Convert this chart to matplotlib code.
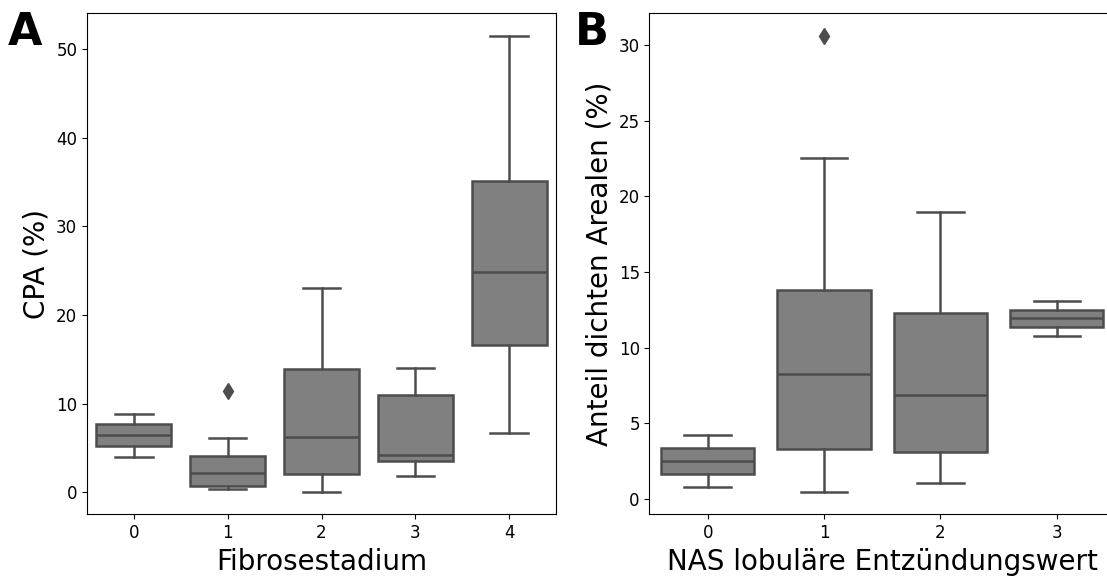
import matplotlib
matplotlib.use("Agg")
import matplotlib.pyplot as plt

# Panel A: CPA je Fibrosestadium
fib_stages = ["0", "1", "2", "3", "4"]
fib_whislo = [4.0, 0.33, 0.08, 1.8, 6.7]
fib_q1 = [5.2, 0.7, 2.1, 3.47, 16.6]
fib_med = [6.45, 2.15, 6.25, 4.15, 24.8]
fib_q3 = [7.65, 4.1, 13.95, 10.95, 35.05]
fib_whishi = [8.85, 6.15, 23.05, 14.05, 51.45]
fib_fliers = [[], [11.45], [], [], []]

# Panel B: Anteil dichter Areale je NAS lobulärer Entzündungswert
nas_scores = ["0", "1", "2", "3"]
nas_whislo = [0.76, 0.47, 1.03, 10.77]
nas_q1 = [1.62, 3.31, 3.09, 11.33]
nas_med = [2.5, 8.22, 6.87, 11.95]
nas_q3 = [3.36, 13.83, 12.31, 12.48]
nas_whishi = [4.22, 22.54, 18.94, 13.05]
nas_fliers = [[], [30.61], [], []]

fill = "#808080"
edge = "#4d4d4d"


def make_stats(lo, q1, med, q3, hi, fliers):
    return [dict(whislo=a, q1=b, med=c, q3=d, whishi=e, fliers=f)
            for a, b, c, d, e, f in zip(lo, q1, med, q3, hi, fliers)]


def draw(ax, stats, labels):
    lw = 1.8
    ax.bxp(stats, positions=range(len(stats)), widths=0.8, patch_artist=True,
           boxprops=dict(facecolor=fill, edgecolor=edge, linewidth=lw),
           medianprops=dict(color=edge, linewidth=lw),
           whiskerprops=dict(color=edge, linewidth=lw),
           capprops=dict(color=edge, linewidth=lw),
           flierprops=dict(marker="d", markersize=8, markerfacecolor=edge,
                           markeredgecolor=edge, linestyle="none"))
    ax.set_xlim(-0.5, len(stats) - 0.5)
    ax.set_xticks(range(len(stats)))
    ax.set_xticklabels(labels)
    ax.tick_params(labelsize=12)
    ax.autoscale(axis="y")
    ax.margins(y=0.05)


fig = plt.figure(figsize=(11.07, 5.81), dpi=100)
axA = fig.add_axes([0.0786, 0.1148, 0.4237, 0.8623])
axB = fig.add_axes([0.5867, 0.1148, 0.4205, 0.8623])

draw(axA, make_stats(fib_whislo, fib_q1, fib_med, fib_q3, fib_whishi, fib_fliers), fib_stages)
axA.set_yticks([0, 10, 20, 30, 40, 50])
axA.set_xlabel("Fibrosestadium", fontsize=20)
axA.set_ylabel("CPA (%)", fontsize=20)

draw(axB, make_stats(nas_whislo, nas_q1, nas_med, nas_q3, nas_whishi, nas_fliers), nas_scores)
axB.set_yticks([0, 5, 10, 15, 20, 25, 30])
axB.set_xlabel("NAS lobuläre Entzündungswert", fontsize=20)
axB.set_ylabel("Anteil dichten Arealen (%)", fontsize=20)

fig.text(0.007, 0.922, "A", fontsize=32, fontweight="bold", va="baseline")
fig.text(0.519, 0.922, "B", fontsize=32, fontweight="bold", va="baseline")

fig.savefig("out.png", dpi=100)
